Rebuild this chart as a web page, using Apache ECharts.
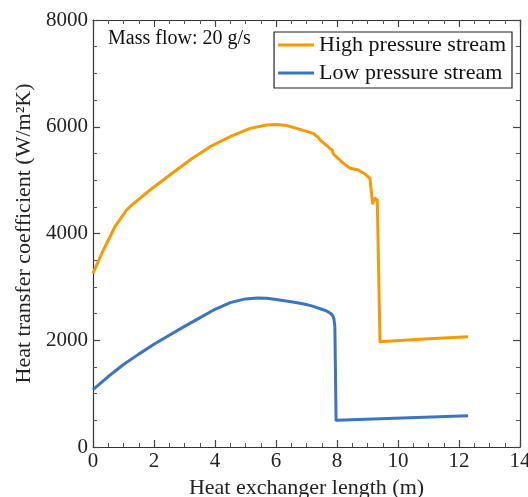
<!DOCTYPE html>
<html>
<head>
<meta charset="utf-8">
<script src="https://cdn.jsdelivr.net/npm/echarts@6/dist/echarts.min.js"></script>
<style>html,body{margin:0;padding:0;background:#fff}#c{width:528px;height:497px}</style>
</head>
<body>
<div id="c"></div>
<script>
const seriesNames = ['High pressure stream', 'Low pressure stream'];
const hpX = [0, 0.15, 0.34, 0.72, 1.1, 1.27, 1.87, 2.52, 3.18, 3.84, 4.49, 5.15, 5.7, 6.0, 6.3, 6.79, 7.22, 7.4, 7.45, 7.5, 7.77, 7.85, 7.88, 8.21, 8.43, 8.7, 8.9, 9.08, 9.12, 9.17, 9.25, 9.32, 9.41, 10.72, 12.3];
const hpY = [3254, 3450, 3690, 4127, 4440, 4533, 4815, 5096, 5377, 5626, 5813, 5970, 6032, 6040, 6030, 5951, 5877, 5790, 5750, 5720, 5596, 5560, 5489, 5314, 5221, 5189, 5120, 5033, 4800, 4565, 4659, 4627, 1973, 2020, 2066];
const lpX = [0, 0.5, 1.0, 1.5, 2.0, 2.5, 3.0, 3.5, 4.0, 4.5, 5.0, 5.4, 5.7, 6.0, 6.5, 6.92, 7.2, 7.57, 7.7, 7.8, 7.86, 7.9, 7.93, 7.97, 12.3];
const lpY = [1075, 1320, 1545, 1740, 1925, 2095, 2260, 2420, 2580, 2705, 2775, 2790, 2786, 2762, 2722, 2679, 2640, 2567, 2535, 2500, 2460, 2400, 2250, 500, 586];
const xTicks = [0, 2, 4, 6, 8, 10, 12, 14];
const yTicks = [0, 2000, 4000, 6000, 8000];
const annotation = 'Mass flow: 20 g/s';

const FONT = '"Liberation Serif", "DejaVu Serif", serif';
const hpData = hpX.map((x, i) => [x, hpY[i]]);
const lpData = lpX.map((x, i) => [x, lpY[i]]);
const axisCol = '#333';

function mkX(show, pos) {
  return {
    type: 'value', min: xTicks[0], max: xTicks[xTicks.length - 1], interval: 2, position: pos,
    axisLine: { show: true, onZero: false, lineStyle: { color: axisCol, width: 1.2 } },
    axisTick: { show: true, inside: true, length: 7, lineStyle: { color: '#444', width: 1.2 } },
    minorTick: { show: true, splitNumber: 4, length: 4, lineStyle: { color: '#555', width: 1 } },
    axisLabel: { show: show, color: '#222', fontFamily: FONT, fontSize: 21, margin: 4, formatter: v => String(v) },
    splitLine: { show: false },
    name: show ? 'Heat exchanger length (m)' : '', nameLocation: 'middle', nameGap: 29,
    nameTextStyle: { color: '#222', fontFamily: FONT, fontSize: 22 }
  };
}
function mkY(show, pos) {
  return {
    type: 'value', min: yTicks[0], max: yTicks[yTicks.length - 1], interval: 2000, position: pos,
    axisLine: { show: true, onZero: false, lineStyle: { color: axisCol, width: 1.2 } },
    axisTick: { show: true, inside: true, length: 7, lineStyle: { color: '#444', width: 1.2 } },
    minorTick: { show: true, splitNumber: 4, length: 4, lineStyle: { color: '#555', width: 1 } },
    axisLabel: { show: show, color: '#222', fontFamily: FONT, fontSize: 21, margin: 5, formatter: v => String(v) },
    splitLine: { show: false },
    name: show ? 'Heat transfer coefficient (W/m²K)' : '', nameLocation: 'middle', nameGap: 56,
    nameTextStyle: { color: '#222', fontFamily: FONT, fontSize: 22 }
  };
}

const chart = echarts.init(document.getElementById('c'), null, { renderer: 'canvas' });
chart.setOption({
  backgroundColor: '#fff',
  animation: false,
  grid: { left: 93, right: 8, top: 20, bottom: 50, containLabel: false, outerBoundsMode: 'none' },
  xAxis: [mkX(true, 'bottom'), mkX(false, 'top')],
  yAxis: [mkY(true, 'left'), mkY(false, 'right')],
  legend: {
    orient: 'vertical', right: 16, top: 32,
    data: seriesNames.map(n => ({ name: n, icon: 'rect' })),
    itemWidth: 36, itemHeight: 3, itemGap: 6,
    padding: [2, 6, 4, 4],
    borderColor: '#222', borderWidth: 1.2, borderRadius: 0,
    textStyle: { fontFamily: FONT, fontSize: 22, color: '#111' }
  },
  graphic: [{
    type: 'text', left: 108, top: 29,
    style: { text: annotation, font: '20px ' + FONT, fill: '#111' }
  }],
  series: [
    { name: seriesNames[0], type: 'line', data: hpData, showSymbol: false, symbol: 'none',
      lineStyle: { color: '#F59B00', width: 3, join: 'round' }, itemStyle: { color: '#F59B00' } },
    { name: seriesNames[1], type: 'line', data: lpData, showSymbol: false, symbol: 'none',
      lineStyle: { color: '#3B74C0', width: 3, join: 'round' }, itemStyle: { color: '#3B74C0' } }
  ]
});
</script>
</body>
</html>
